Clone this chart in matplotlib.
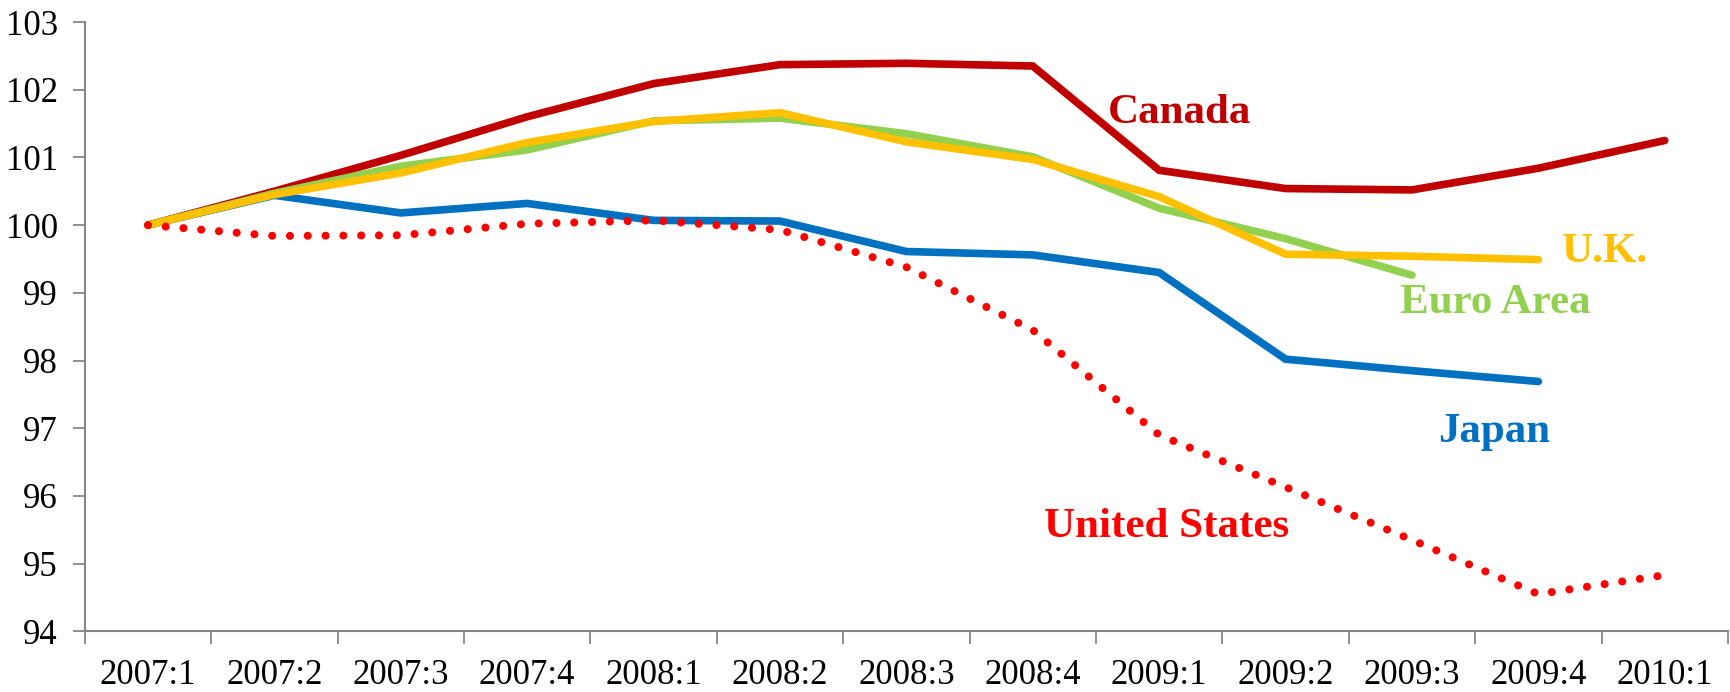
import matplotlib
matplotlib.use('Agg')
import matplotlib.pyplot as plt
import numpy as np

# Data (index, 2007:1 = 100)
quarters = ['2007:1', '2007:2', '2007:3', '2007:4', '2008:1', '2008:2', '2008:3',
            '2008:4', '2009:1', '2009:2', '2009:3', '2009:4', '2010:1']
canada = [100.0, 100.50, 101.03, 101.60, 102.09, 102.37, 102.39, 102.35, 100.81, 100.54, 100.52, 100.84, 101.25]
euroArea = [100.0, 100.47, 100.87, 101.11, 101.54, 101.58, 101.35, 101.01, 100.25, 99.80, 99.26]
uk = [100.0, 100.45, 100.77, 101.22, 101.53, 101.66, 101.23, 100.97, 100.42, 99.57, 99.54, 99.49]
japan = [100.0, 100.44, 100.18, 100.32, 100.07, 100.06, 99.61, 99.56, 99.30, 98.02, 97.85, 97.69]
unitedStates = [100.0, 99.84, 99.85, 100.02, 100.07, 99.93, 99.38, 98.45, 96.90, 96.13, 95.35, 94.55, 94.83]

SPINE_GREY = '#868686'
plt.rcParams['font.family'] = ['Liberation Serif', 'DejaVu Serif']

fig = plt.figure(figsize=(17.3, 6.92), dpi=100)
ax = fig.add_axes([0.049, 0.0877, 0.9498, 0.8805])

lineStyle = dict(linewidth=5.5, solid_capstyle='round', solid_joinstyle='miter')
ax.plot(range(len(canada)), canada, color='#C00000', zorder=2, **lineStyle)
ax.plot(range(len(japan)), japan, color='#0070C0', zorder=3, **lineStyle)
ax.plot(range(len(euroArea)), euroArea, color='#92D050', zorder=4, **lineStyle)
ax.plot(range(len(uk)), uk, color='#FFC000', zorder=5, **lineStyle)
ax.plot(range(len(unitedStates)), unitedStates, color='#FF0000', linewidth=5.8,
        linestyle=(0, (0.01, 2.2)), dash_capstyle='round', zorder=6)

# Series labels
labelStyle = dict(fontsize=31, fontweight='bold', ha='center', va='baseline')
ax.text(8.16, 101.51, 'Canada', color='#C00000', **labelStyle)
ax.text(11.53, 99.46, 'U.K.', color='#FFC000', **labelStyle)
ax.text(10.66, 98.70, 'Euro Area', color='#92D050', **labelStyle)
ax.text(10.65, 96.80, 'Japan', color='#0070C0', **labelStyle)
ax.text(8.06, 95.40, 'United States', color='#FF0000', **labelStyle)

ax.set_xlim(-0.5, len(quarters) - 0.5)
ax.set_ylim(94, 103)

# Category labels centred, tick marks between categories
ax.set_xticks(range(len(quarters)))
ax.set_xticklabels(quarters)
ax.set_xticks(np.arange(-0.5, len(quarters)), minor=True)
ax.tick_params(axis='x', which='major', length=0, pad=20, labelsize=25)
ax.tick_params(axis='x', which='minor', length=9, width=1.3, color=SPINE_GREY, direction='out')
ax.set_yticks(range(94, 104))
ax.tick_params(axis='y', length=9, width=1.3, color=SPINE_GREY, pad=10.5, labelsize=25)

for side in ['top', 'right']:
    ax.spines[side].set_visible(False)
for side in ['left', 'bottom']:
    ax.spines[side].set_color(SPINE_GREY)
    ax.spines[side].set_linewidth(1.5)

fig.savefig('out.png', dpi=100)
